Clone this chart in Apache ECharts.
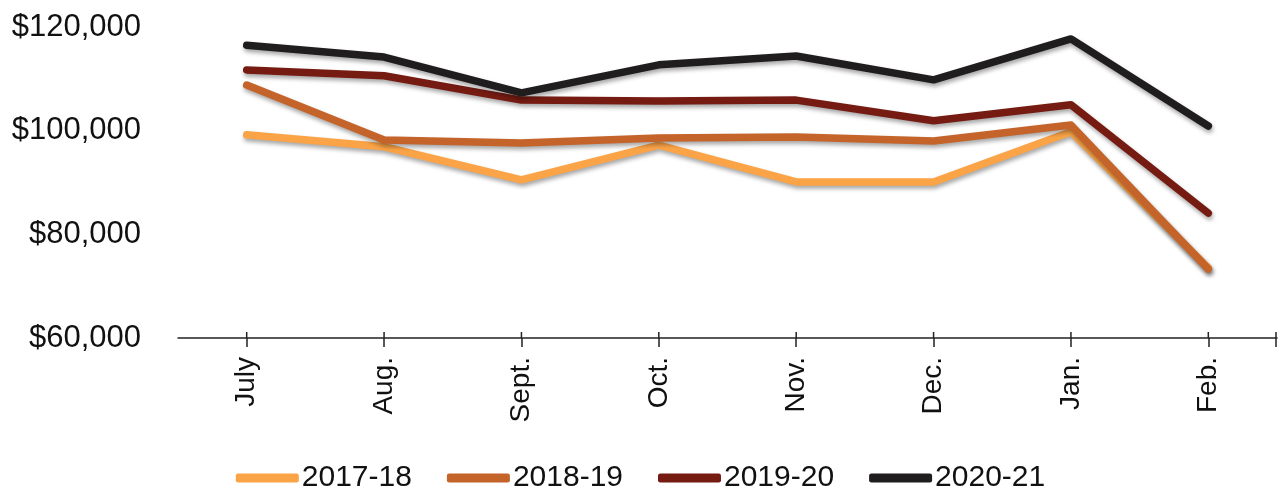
<!DOCTYPE html>
<html>
<head>
<meta charset="utf-8">
<script src="https://cdn.jsdelivr.net/npm/echarts@6/dist/echarts.min.js"></script>
<style>
  html, body { margin: 0; padding: 0; background: #fff; }
  #chart { width: 1281px; height: 493px; }
</style>
</head>
<body>
<div id="chart"></div>
<script>
// Monthly totals by fiscal year
const months = ['July', 'Aug.', 'Sept.', 'Oct.', 'Nov.', 'Dec.', 'Jan.', 'Feb.'];
const fy2017_18 = [99200, 96900, 90500, 97200, 90100, 90100, 99800, 73500];
const fy2018_19 = [108800, 98200, 97600, 98600, 98800, 98000, 101100, 73300];
const fy2019_20 = [111700, 110600, 105900, 105700, 105900, 101900, 105000, 84100];
const fy2020_21 = [116500, 114200, 107300, 112700, 114400, 109800, 117700, 100900];
const yTicks = [60000, 80000, 100000, 120000];

const seriesDefs = [
  { name: '2017-18', data: fy2017_18, color: '#FBA447' },
  { name: '2018-19', data: fy2018_19, color: '#C4632A' },
  { name: '2019-20', data: fy2019_20, color: '#761B12' },
  { name: '2020-21', data: fy2020_21, color: '#1F1D1E' }
];

const chart = echarts.init(document.getElementById('chart'));
const fontFamily = 'Liberation Sans, Arial, sans-serif';

chart.setOption({
  animation: false,
  backgroundColor: '#ffffff',
  grid: { left: 178, right: 4, top: 27, bottom: 155, containLabel: false },
  legend: {
    top: 458,
    left: 'center',
    icon: 'roundRect',
    itemWidth: 63,
    itemHeight: 9,
    itemGap: 35,
    textStyle: { fontFamily, fontSize: 30, color: '#111', padding: [0, 0, 0, -2] },
    data: seriesDefs.map(s => s.name)
  },
  xAxis: {
    type: 'category',
    data: months,
    boundaryGap: true,
    axisLine: { show: true, lineStyle: { color: '#222', width: 1.5 } },
    axisTick: { show: true, alignWithLabel: true, length: 9, lineStyle: { color: '#222', width: 1.5 } },
    axisLabel: { rotate: 90, fontFamily, fontSize: 28, color: '#111', margin: 19 }
  },
  yAxis: {
    type: 'value',
    min: yTicks[0],
    max: yTicks[yTicks.length - 1],
    interval: 20000,
    axisLine: { show: false },
    axisTick: { show: false },
    splitLine: { show: false },
    axisLabel: {
      fontFamily, fontSize: 31, color: '#111', margin: 37,
      formatter: v => '$' + v.toLocaleString('en-US')
    }
  },
  series: seriesDefs.map(s => ({
    name: s.name,
    type: 'line',
    data: s.data,
    symbol: 'none',
    smooth: false,
    itemStyle: { color: s.color },
    lineStyle: {
      color: s.color, width: 7.5, cap: 'round', join: 'round',
      shadowColor: 'rgba(0,0,0,0.35)', shadowBlur: 4, shadowOffsetX: 1, shadowOffsetY: 3
    }
  }))
});

// closing tick at the right end of the category axis, plus short stubs above the axis
const gridRect = chart.getModel().getComponent('grid').coordinateSystem.getRect();
const axisY = gridRect.y + gridRect.height;
const tickGraphics = [{
  type: 'line',
  shape: { x1: gridRect.x + gridRect.width - 1, y1: axisY - 6, x2: gridRect.x + gridRect.width - 1, y2: axisY + 9 },
  style: { stroke: '#222', lineWidth: 1.5 }
}];
months.forEach(m => {
  const px = chart.convertToPixel({ xAxisIndex: 0 }, m);
  tickGraphics.push({
    type: 'line',
    shape: { x1: px, y1: axisY - 6, x2: px, y2: axisY },
    style: { stroke: '#222', lineWidth: 1.5 }
  });
});
chart.setOption({ graphic: tickGraphics });
</script>
</body>
</html>
